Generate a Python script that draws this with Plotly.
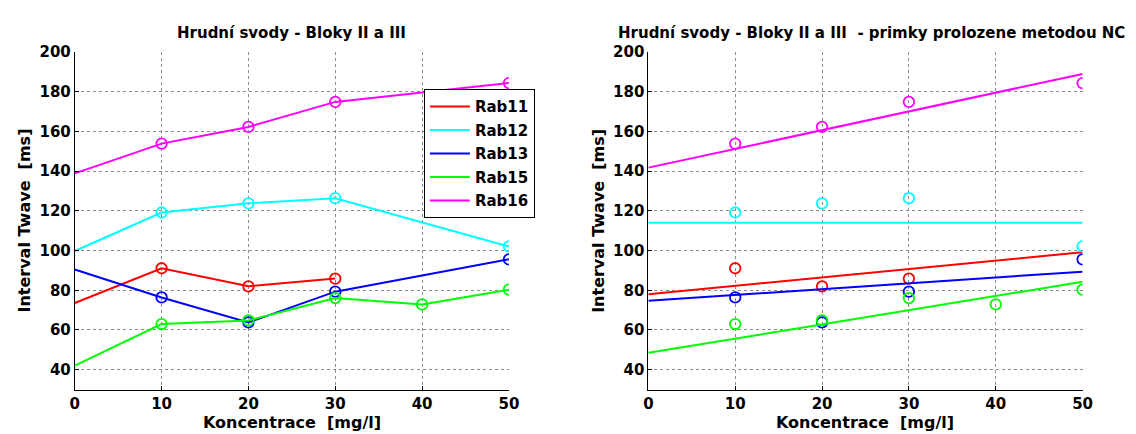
import plotly.graph_objects as go

# Concentration levels [mg/l]
konc = [0, 10, 20, 30, 40, 50]

# Measured T-wave intervals [ms] per animal (None = not measured)
rab11 = [73.6, 91.1, 82.0, 85.9, None, None]
rab12 = [99.8, 119.2, 123.8, 126.4, None, 102.1]
rab13 = [90.5, 76.4, 63.8, 79.3, None, 95.6]
rab15 = [42.1, 63.0, 64.8, 76.1, 72.9, 80.3]
rab16 = [138.9, 153.9, 162.3, 174.9, None, 184.4]

# Fitted lines (values at 0 and 50 mg/l)
fit_x = [0, 50]
fit11 = [78.0, 99.2]
fit12 = [114.0, 114.0]
fit13 = [74.7, 89.4]
fit15 = [48.5, 84.3]
fit16 = [141.8, 189.0]

names = ["Rab11", "Rab12", "Rab13", "Rab15", "Rab16"]
colors = ["#FF0000", "#00FFFF", "#0000FF", "#00FF00", "#FF00FF"]
series = [rab11, rab12, rab13, rab15, rab16]
fits = [fit11, fit12, fit13, fit15, fit16]

yticks = [40, 60, 80, 100, 120, 140, 160, 180, 200]
xticks = [0, 10, 20, 30, 40, 50]

W, H = 1136, 434
FONT = "DejaVu Sans"

fig = go.Figure()


def pts(vals, skip_zero):
    xs, ys = [], []
    for x, v in zip(konc, vals):
        if v is None or (skip_zero and x == 0):
            continue
        xs.append(x)
        ys.append(v)
    return xs, ys


marker_style = lambda col: dict(symbol="circle-open", size=10.5, color=col,
                                line=dict(width=1.8, color=col))

for name, col, vals, fit in zip(names, colors, series, fits):
    lx, ly = pts(vals, False)
    mx, my = pts(vals, True)
    # left panel: connected measurements
    fig.add_trace(go.Scatter(x=lx, y=ly, mode="lines", name=name, legendgroup=name,
                             line=dict(color=col, width=2),
                             xaxis="x", yaxis="y", showlegend=True))
    fig.add_trace(go.Scatter(x=mx, y=my, mode="markers", showlegend=False,
                             legendgroup=name, marker=marker_style(col),
                             xaxis="x", yaxis="y"))
    # right panel: measurements + fitted line
    fig.add_trace(go.Scatter(x=mx, y=my, mode="markers", showlegend=False,
                             legendgroup=name, marker=marker_style(col),
                             xaxis="x2", yaxis="y2"))
    fig.add_trace(go.Scatter(x=fit_x, y=fit, mode="lines", showlegend=False,
                             legendgroup=name, line=dict(color=col, width=2),
                             xaxis="x2", yaxis="y2"))

ydom = [1 - 388.6 / H, 1 - 44 / H]
xdom1 = [70.7 / W, 510.7 / W]
xdom2 = [652 / W, 1092 / W]

tickfont = dict(family=FONT, size=15, color="black")
grid = dict(showgrid=True, gridcolor="#8c8c8c", griddash="dot", gridwidth=1,
            showline=True, linecolor="black", linewidth=1,
            ticks="inside", ticklen=4, tickcolor="black",
            tickfont=tickfont, zeroline=False, mirror=False)
common_x = dict(range=[0, 50], tickvals=xticks,
                ticktext=[f"<b>{v}</b>" for v in xticks], **grid)
common_y = dict(range=[30, 200], tickvals=yticks,
                ticktext=[f"<b>{v}</b>" for v in yticks], **grid)

fig.update_layout(
    width=W, height=H,
    margin=dict(l=0, r=0, t=0, b=0),
    paper_bgcolor="white", plot_bgcolor="white",
    xaxis=dict(domain=xdom1, anchor="y", **common_x),
    yaxis=dict(domain=ydom, anchor="x", **common_y),
    xaxis2=dict(domain=xdom2, anchor="y2", **common_x),
    yaxis2=dict(domain=ydom, anchor="x2", **common_y),
    legend=dict(x=424.5 / W, y=1 - 82 / H, xanchor="left", yanchor="top",
                bgcolor="white", bordercolor="black", borderwidth=1,
                font=dict(family=FONT, size=15, color="black", weight="bold"),
                itemwidth=40, tracegroupgap=1),
    showlegend=True,
)

titlefont = dict(family=FONT, size=15, color="black", weight="bold")
labelfont = dict(family=FONT, size=16, color="black", weight="bold")

ann = []
ann.append(dict(text="<b>Hrudní svody - Bloky II a III</b>",
                x=(xdom1[0] + xdom1[1]) / 2, y=1 - 24 / H,
                xref="paper", yref="paper", showarrow=False,
                xanchor="center", yanchor="middle", font=titlefont))
ann.append(dict(text="<b>Hrudní svody - Bloky II a III  - primky prolozene metodou NC</b>",
                x=878 / W, y=1 - 24 / H, xref="paper", yref="paper", showarrow=False,
                xanchor="center", yanchor="middle", font=titlefont))
for xd, ytx in [(xdom1, 20), (xdom2, 602)]:
    ann.append(dict(text="<b>Koncentrace  [mg/l]</b>", x=(xd[0] + xd[1]) / 2,
                    y=1 - 422 / H, xref="paper", yref="paper", showarrow=False,
                    xanchor="center", yanchor="middle", font=labelfont))
    ann.append(dict(text="<b>Interval Twave  [ms]</b>", x=ytx / W,
                    y=(ydom[0] + ydom[1]) / 2, xref="paper", yref="paper",
                    showarrow=False, textangle=-90,
                    xanchor="center", yanchor="middle", font=labelfont))
fig.update_layout(annotations=ann)

fig.write_html("out.html")
